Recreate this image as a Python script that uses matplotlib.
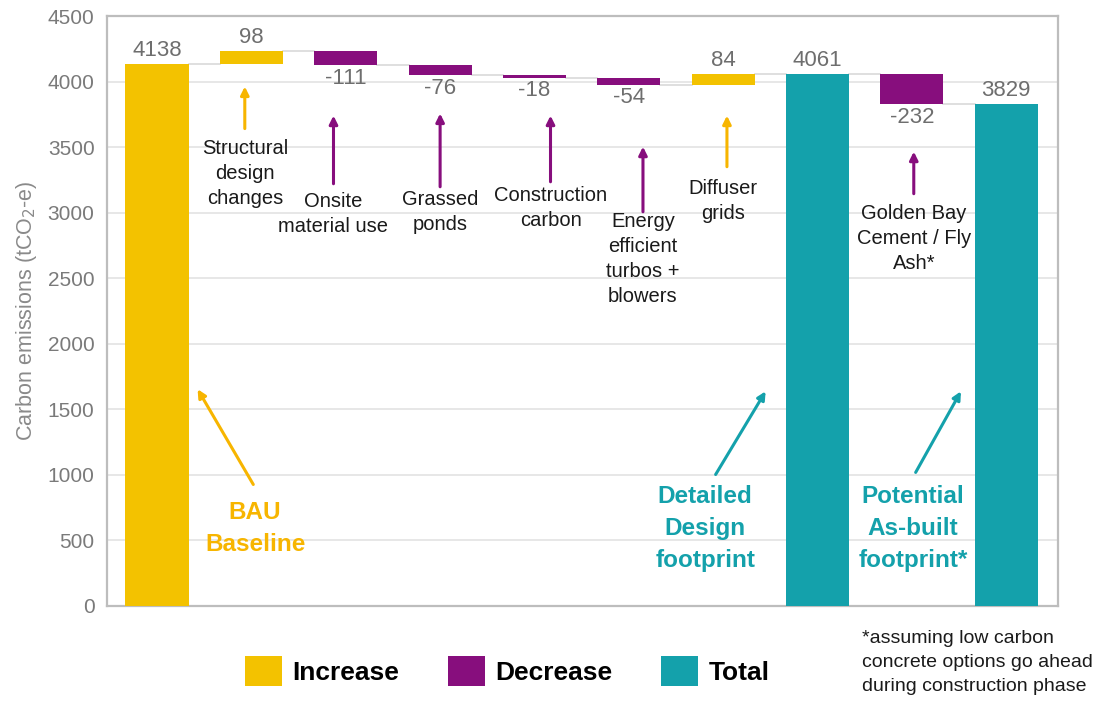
import matplotlib
matplotlib.use("Agg")
import matplotlib.pyplot as plt
from matplotlib.patches import Patch

plt.rcParams['font.family'] = ['Liberation Sans', 'DejaVu Sans']

# ---------------- data ----------------
steps = ["BAU Baseline", "Structural design changes", "Onsite material use",
         "Grassed ponds", "Construction carbon",
         "Energy efficient turbos + blowers", "Diffuser grids",
         "Detailed Design footprint", "Golden Bay Cement / Fly Ash*",
         "Potential As-built footprint*"]
values = [4138, 98, -111, -76, -18, -54, 84, 4061, -232, 3829]
kinds = ["total_start", "delta", "delta", "delta", "delta", "delta", "delta",
         "total", "delta", "total"]
yticks = [0, 500, 1000, 1500, 2000, 2500, 3000, 3500, 4000, 4500]

YELLOW = "#F3C200"
ARROW_Y = "#F7B500"
PURPLE = "#870E7D"
TEAL = "#14A1AB"
GRAY_TXT = "#6E6E6E"

fig = plt.figure(figsize=(11.15, 7.02), dpi=100)
ax = fig.add_axes([0.096, 0.137, 0.853, 0.84])

width = 0.67
running = 0
bottoms, heights, colors, tops = [], [], [], []
for v, k in zip(values, kinds):
    if k in ("total_start", "total"):
        b, h = 0, v
        running = v
        c = YELLOW if k == "total_start" else TEAL
    else:
        if v >= 0:
            b, h, c = running, v, YELLOW
        else:
            b, h, c = running + v, -v, PURPLE
        running += v
    bottoms.append(b); heights.append(h); colors.append(c); tops.append(running)

xs = list(range(len(values)))
ax.bar(xs, heights, bottom=bottoms, width=width, color=colors, zorder=3)

# connectors
for i in range(len(values) - 1):
    ax.plot([i + width / 2, i + 1 - width / 2], [tops[i], tops[i]],
            color="#D9D9D9", lw=1.2, zorder=2)

# value labels
for i, (v, k) in enumerate(zip(values, kinds)):
    if v >= 0:
        y = bottoms[i] + heights[i] + 20
        va = "bottom"
    else:
        y = bottoms[i] - 20
        va = "top"
    ax.text(i, y, f"{v}", ha="center", va=va, fontsize=16, color=GRAY_TXT, zorder=4)

ax.set_xlim(-0.53, 9.55)
ax.set_ylim(0, 4500)
ax.set_yticks(yticks)
ax.set_xticks([])
ax.tick_params(axis="y", length=0, labelsize=15, labelcolor="#7A7A7A", pad=9)
ax.grid(axis="y", color="#E3E3E3", lw=1.2, zorder=0)
for s in ax.spines.values():
    s.set_color("#BDBDBD")
    s.set_linewidth(1.6)
ax.set_ylabel("Carbon emissions (tCO$_2$-e)", fontsize=15.5, color="#8A8A8A", labelpad=6)

# small annotations
small = [
    ("Structural\ndesign\nchanges", 0.93, 3560, 0.93, 3963, 3642, ARROW_Y),
    ("Onsite\nmaterial use", 1.87, 3160, 1.87, 3741, 3221, PURPLE),
    ("Grassed\nponds", 3.0, 3175, 3.0, 3757, 3198, PURPLE),
    ("Construction\ncarbon", 4.17, 3200, 4.17, 3741, 3236, PURPLE),
    ("Energy\nefficient\nturbos +\nblowers", 5.15, 3005, 5.15, 3504, 3007, PURPLE),
    ("Diffuser\ngrids", 6.0, 3260, 6.04, 3741, 3351, ARROW_Y),
    ("Golden Bay\nCement / Fly\nAsh*", 8.02, 3070, 8.02, 3466, 3145, PURPLE),
]
for txt, tx, ty, axx, tip, tail, col in small:
    ax.text(tx, ty, txt, ha="center", va="top", fontsize=14.5, color="#1A1A1A",
            linespacing=1.4, zorder=5)
    ax.annotate("", xy=(axx, tip), xytext=(axx, tail),
                arrowprops=dict(arrowstyle="-|>", color=col, lw=2.2,
                                mutation_scale=12, shrinkA=0, shrinkB=0), zorder=5)

big = [
    ("BAU\nBaseline", 1.04, 589, (1.02, 926), (0.43, 1653), ARROW_Y),
    ("Detailed\nDesign\nfootprint", 5.81, 589, (5.92, 1002), (6.45, 1637), TEAL),
    ("Potential\nAs-built\nfootprint*", 8.01, 589, (8.04, 1018), (8.52, 1637), TEAL),
]
for txt, tx, ty, tail, tip, col in big:
    ax.text(tx, ty, txt, ha="center", va="center", fontsize=17.5, fontweight="bold",
            color=col, linespacing=1.5, zorder=5)
    ax.annotate("", xy=tip, xytext=tail,
                arrowprops=dict(arrowstyle="-|>", color=col, lw=2.2,
                                mutation_scale=12, shrinkA=0, shrinkB=0), zorder=5)

handles = [Patch(facecolor=YELLOW, label="Increase"),
           Patch(facecolor=PURPLE, label="Decrease"),
           Patch(facecolor=TEAL, label="Total")]
leg = fig.legend(handles=handles, loc="center", bbox_to_anchor=(0.455, 0.044),
                 ncol=3, frameon=False, handlelength=1.4, handleheight=1.4,
                 columnspacing=1.85, handletextpad=0.4,
                 prop=dict(size=19, weight="bold"))

fig.text(0.773, 0.103, "*assuming low carbon\nconcrete options go ahead\nduring construction phase",
         ha="left", va="top", fontsize=14, color="#1A1A1A", linespacing=1.55)

fig.savefig("out.png", dpi=100)
